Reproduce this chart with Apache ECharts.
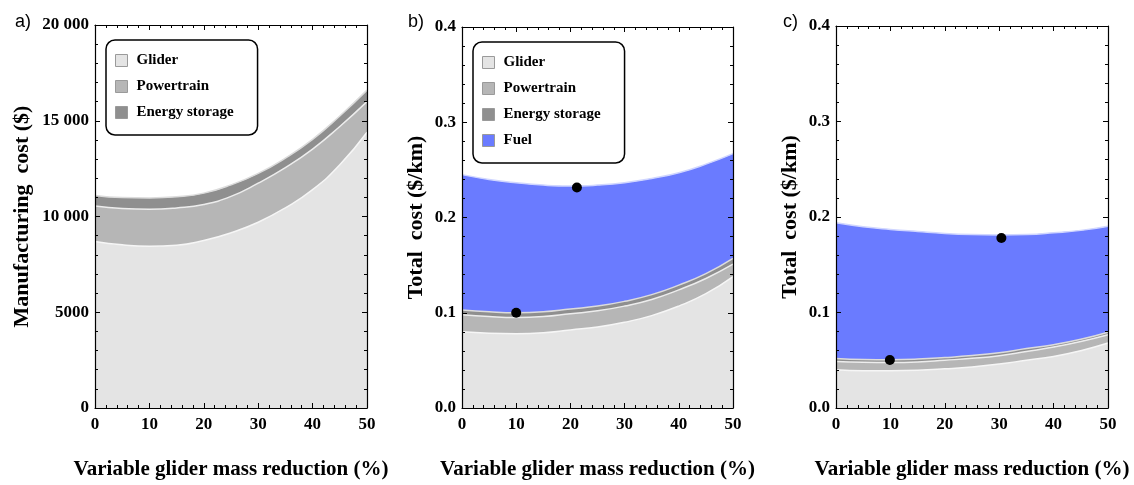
<!DOCTYPE html>
<html>
<head>
<meta charset="utf-8">
<script src="https://cdn.jsdelivr.net/npm/echarts@6/dist/echarts.min.js"></script>
<style>
html,body{margin:0;padding:0;background:#fff;}
#chart{width:1134px;height:485px;}
</style>
</head>
<body>
<div id="chart"></div>
<script>
// x positions (variable glider mass reduction, %)
const xValues = [0, 5, 10, 15, 20, 25, 30, 35, 40, 45, 50];

// Panel a) manufacturing cost ($), components
const aGlider     = [8700, 8520, 8450, 8500, 8750, 9150, 9700, 10450, 11400, 12700, 14400];
const aPowertrain = [1850, 1900, 1930, 1950, 1880, 1900, 2040, 2100, 2120, 2000, 1600];
const aEnergy     = [550, 570, 590, 580, 590, 600, 510, 500, 510, 550, 600];

// Panel b) total cost ($/km), components
const bGlider     = [0.080, 0.0785, 0.078, 0.079, 0.082, 0.085, 0.090, 0.097, 0.107, 0.120, 0.138];
const bPowertrain = [0.018, 0.0175, 0.017, 0.017, 0.017, 0.017, 0.017, 0.017, 0.017, 0.016, 0.013];
const bEnergy     = [0.005, 0.005, 0.005, 0.005, 0.005, 0.005, 0.005, 0.005, 0.005, 0.005, 0.006];
const bFuel       = [0.142, 0.139, 0.1365, 0.133, 0.129, 0.127, 0.1245, 0.122, 0.118, 0.115, 0.110];
const bPoints     = [[10, 0.100], [21.2, 0.2315]];

// Panel c) total cost ($/km), components
const cGlider     = [0.040, 0.039, 0.039, 0.0395, 0.041, 0.043, 0.046, 0.050, 0.054, 0.060, 0.068];
const cPowertrain = [0.0088, 0.0088, 0.0086, 0.0087, 0.0090, 0.0090, 0.0088, 0.0092, 0.0098, 0.0096, 0.0087];
const cEnergy     = [0.0031, 0.003, 0.003, 0.003, 0.0028, 0.0029, 0.0031, 0.003, 0.0025, 0.0024, 0.0027];
const cFuel       = [0.142, 0.139, 0.1364, 0.1336, 0.130, 0.1267, 0.1233, 0.1195, 0.1172, 0.114, 0.111];
const cPoints     = [[9.9, 0.0503], [30.4, 0.178]];

const xTicks = [0, 10, 20, 30, 40, 50];
const aYTicks = ['0', '5000', '10 000', '15 000', '20 000'];
const bcYTicks = ['0.0', '0.1', '0.2', '0.3', '0.4'];

const colors = {'Glider': '#e4e4e4', 'Powertrain': '#b6b6b6', 'Energy storage': '#8f8f8f', 'Fuel': '#6a7bff'};
const edgeColors = {'Glider': '#f6f6f6', 'Powertrain': '#ededed', 'Energy storage': '#dcdcdc', 'Fuel': '#d0d6ff'};

const serif = 'Liberation Serif, DejaVu Serif, serif';
const chart = echarts.init(document.getElementById('chart'));

const grids = [
  {left: 95, top: 25, width: 272, height: 392},
  {left: 462, top: 27, width: 271, height: 391},
  {left: 836, top: 26, width: 272, height: 392}
];

const xAxes = [], yAxes = [];
grids.forEach((g, i) => {
  const base = {
    type: 'value', gridIndex: i, min: 0, max: 50, interval: 10, z: 10,
    axisLine: {show: true, onZero: false, lineStyle: {color: '#000', width: 1.2}},
    axisTick: {show: true, inside: true, length: 5, lineStyle: {color: '#000'}},
    minorTick: {show: true, splitNumber: 5, length: 3, lineStyle: {color: '#000'}},
    splitLine: {show: false}
  };
  xAxes.push(Object.assign({}, base, {
    position: 'bottom',
    name: 'Variable glider mass reduction (%)', nameLocation: 'middle', nameGap: 51,
    nameTextStyle: {fontFamily: serif, fontWeight: 'bold', fontSize: 21, color: '#000'},
    axisLabel: {fontFamily: serif, fontWeight: 'bold', fontSize: 17, color: '#000', margin: 8,
      formatter: v => xTicks.includes(v) ? String(v) : ''}
  }));
  xAxes.push(Object.assign({}, base, {position: 'top', axisLabel: {show: false}}));

  const isA = i === 0;
  const ybase = {
    type: 'value', gridIndex: i, min: 0, max: isA ? 20000 : 0.4, interval: isA ? 5000 : 0.1, z: 10,
    axisLine: {show: true, onZero: false, lineStyle: {color: '#000', width: 1.2}},
    axisTick: {show: true, inside: true, length: 5, lineStyle: {color: '#000'}},
    minorTick: {show: true, splitNumber: 5, length: 3, lineStyle: {color: '#000'}},
    splitLine: {show: false}
  };
  yAxes.push(Object.assign({}, ybase, {
    position: 'left',
    name: isA ? 'Manufacturing  cost ($)' : 'Total  cost ($/km)',
    nameLocation: 'middle', nameRotate: 90, nameGap: isA ? 62 : 35,
    nameTextStyle: {fontFamily: serif, fontWeight: 'bold', fontSize: 22, color: '#000'},
    axisLabel: {fontFamily: serif, fontWeight: 'bold', fontSize: 17, color: '#000', margin: 6,
      formatter: (v) => {
        const idx = Math.round(v / (isA ? 5000 : 0.1));
        return (isA ? aYTicks : bcYTicks)[idx];
      }}
  }));
  yAxes.push(Object.assign({}, ybase, {position: 'right', axisLabel: {show: false}}));
});

// cumulative tops built from the component arrays (stack drawn top-first)
function cumulative(parts) {
  return xValues.map((x, k) => [x, parts.reduce((s, p) => s + p[k], 0)]);
}

function band(name, parts, gi) {
  return {
    type: 'line', name: name, xAxisIndex: gi * 2, yAxisIndex: gi * 2,
    data: cumulative(parts), smooth: true, showSymbol: false, symbol: 'none',
    color: colors[name],
    lineStyle: {color: edgeColors[name], width: 1.5},
    areaStyle: {color: colors[name], opacity: 1, origin: 'start'},
    emphasis: {disabled: true}, silent: true, z: 2
  };
}
function dots(arr, gi) {
  return {
    type: 'scatter', xAxisIndex: gi * 2, yAxisIndex: gi * 2, data: arr,
    symbol: 'circle', symbolSize: 10, itemStyle: {color: '#000', opacity: 1}, z: 5, silent: true
  };
}

const series = [
  band('Energy storage', [aGlider, aPowertrain, aEnergy], 0),
  band('Powertrain', [aGlider, aPowertrain], 0),
  band('Glider', [aGlider], 0),
  band('Fuel', [bGlider, bPowertrain, bEnergy, bFuel], 1),
  band('Energy storage', [bGlider, bPowertrain, bEnergy], 1),
  band('Powertrain', [bGlider, bPowertrain], 1),
  band('Glider', [bGlider], 1),
  dots(bPoints, 1),
  band('Fuel', [cGlider, cPowertrain, cEnergy, cFuel], 2),
  band('Energy storage', [cGlider, cPowertrain, cEnergy], 2),
  band('Powertrain', [cGlider, cPowertrain], 2),
  band('Glider', [cGlider], 2),
  dots(cPoints, 2)
];

function legendData(names) {
  return names.map(n => ({name: n, icon: 'rect', itemStyle: {color: colors[n], borderColor: '#9a9a9a', borderWidth: 1}}));
}
const legendBase = {
  orient: 'vertical', itemWidth: 12, itemHeight: 12, itemGap: 11,
  backgroundColor: '#fff', borderColor: '#000', borderWidth: 1.5, borderRadius: 9,
  padding: [13, 24, 15, 9], selectedMode: false, z: 20,
  textStyle: {fontFamily: serif, fontWeight: 'bold', fontSize: 15, color: '#000', lineHeight: 14, padding: [0, 0, 0, 4]}
};

const labelFont = {fontFamily: 'Liberation Sans, Arial, sans-serif', fontWeight: 'normal', fontSize: 18, color: '#000'};
const option = {
  animation: false,
  backgroundColor: '#fff',
  grid: grids,
  xAxis: xAxes,
  yAxis: yAxes,
  title: [
    {text: 'a)', left: 10, top: 8, textStyle: labelFont},
    {text: 'b)', left: 403, top: 8, textStyle: labelFont},
    {text: 'c)', left: 778, top: 8, textStyle: labelFont}
  ],
  legend: [
    Object.assign({}, legendBase, {left: 106, top: 40, data: legendData(['Glider', 'Powertrain', 'Energy storage'])}),
    Object.assign({}, legendBase, {left: 473, top: 42, data: legendData(['Glider', 'Powertrain', 'Energy storage', 'Fuel'])})
  ],
  series: series
};
chart.setOption(option);
</script>
</body>
</html>
